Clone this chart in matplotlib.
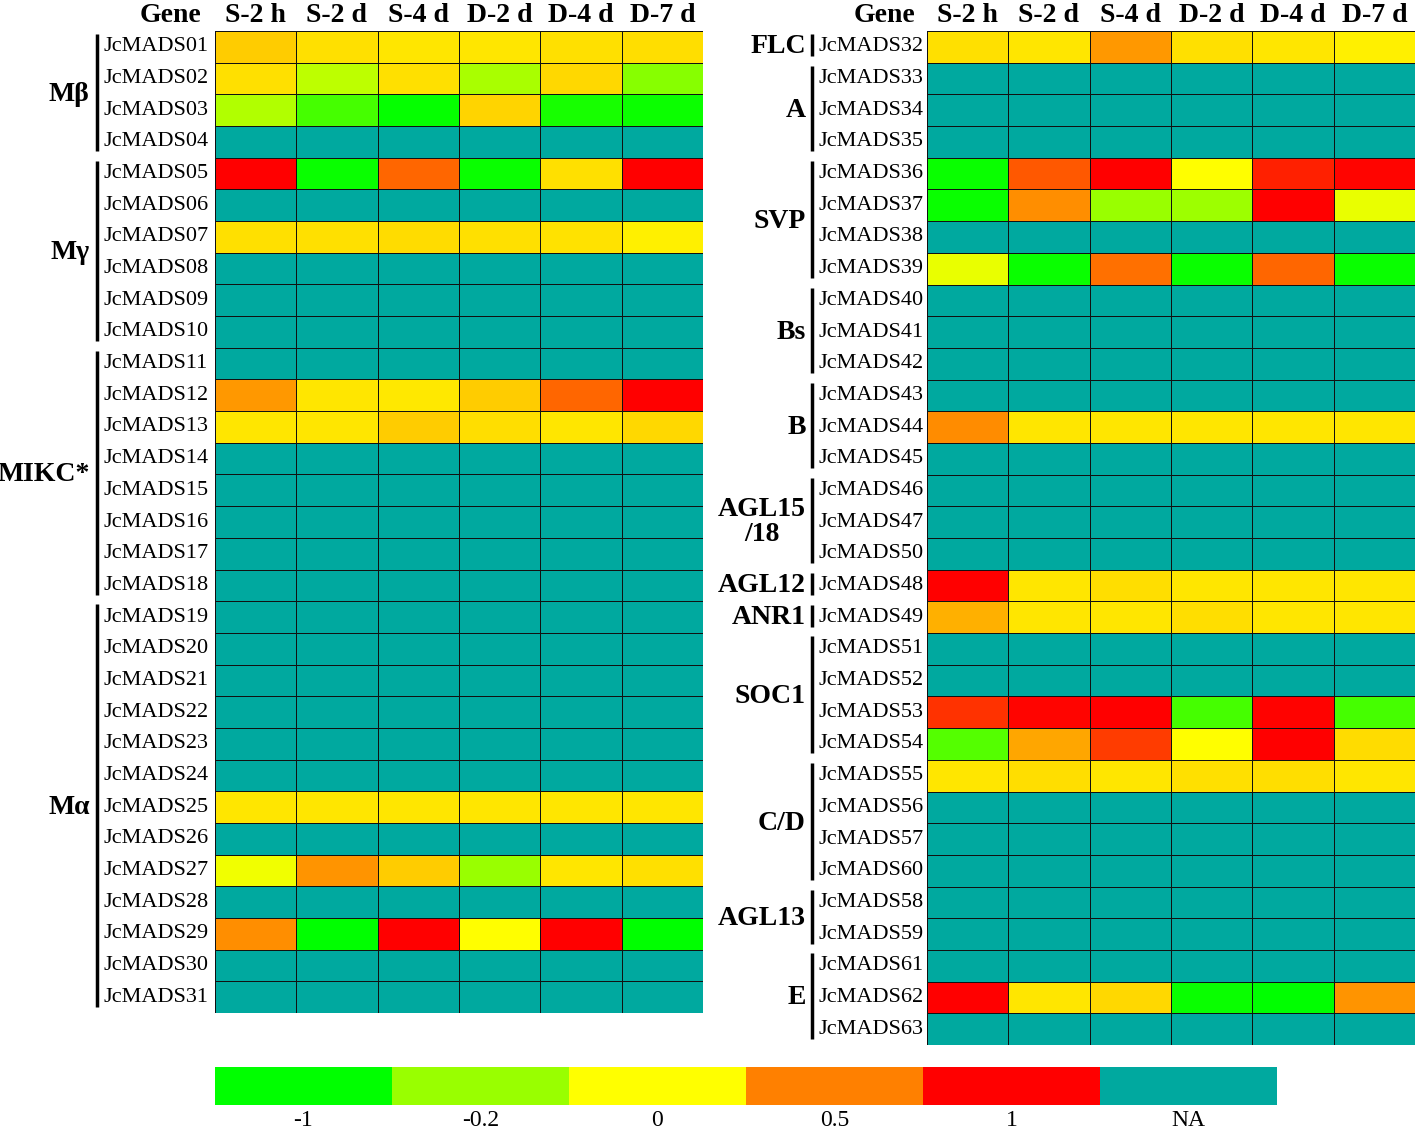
import numpy as np
import matplotlib
matplotlib.use("Agg")
import matplotlib.pyplot as plt
from matplotlib.colors import LinearSegmentedColormap, ListedColormap, Normalize

plt.rcParams['font.family'] = ['Liberation Serif', 'DejaVu Serif']

NA = np.nan
conditions = ["S-2 h", "S-2 d", "S-4 d", "D-2 d", "D-4 d", "D-7 d"]

# ---- left panel ----
left_genes = [f"JcMADS{i:02d}" for i in range(1, 32)]
left_groups = [("Mβ", 0, 3), ("Mγ", 4, 9), ("MIKC*", 10, 17), ("Mα", 18, 30)]
left_values = [
    [0.20, 0.12, 0.10, 0.10, 0.12, 0.13],    # 01
    [0.12, -0.13, 0.12, -0.17, 0.15, -0.29], # 02
    [-0.15, -0.64, -0.97, 0.17, -0.88, -0.94], # 03
    [NA] * 6,                                # 04
    [1.0, -0.95, 0.60, -0.95, 0.12, 1.0],    # 05
    [NA] * 6,                                # 06
    [0.12, 0.12, 0.14, 0.12, 0.11, 0.06],    # 07
    [NA] * 6, [NA] * 6, [NA] * 6, [NA] * 6,  # 08-11
    [0.40, 0.10, 0.09, 0.20, 0.60, 1.0],     # 12
    [0.10, 0.10, 0.20, 0.13, 0.10, 0.15],    # 13
    [NA] * 6, [NA] * 6, [NA] * 6, [NA] * 6, [NA] * 6, [NA] * 6,  # 14-19
    [NA] * 6, [NA] * 6, [NA] * 6, [NA] * 6, [NA] * 6,            # 20-24
    [0.10, 0.10, 0.10, 0.10, 0.10, 0.10],    # 25
    [NA] * 6,                                # 26
    [-0.03, 0.42, 0.20, -0.20, 0.10, 0.12],  # 27
    [NA] * 6,                                # 28
    [0.44, -1.0, 1.0, 0.0, 1.0, -1.0],       # 29
    [NA] * 6, [NA] * 6,                      # 30-31
]

# ---- right panel ----
right_genes = ["JcMADS32", "JcMADS33", "JcMADS34", "JcMADS35", "JcMADS36", "JcMADS37",
               "JcMADS38", "JcMADS39", "JcMADS40", "JcMADS41", "JcMADS42", "JcMADS43",
               "JcMADS44", "JcMADS45", "JcMADS46", "JcMADS47", "JcMADS50", "JcMADS48",
               "JcMADS49", "JcMADS51", "JcMADS52", "JcMADS53", "JcMADS54", "JcMADS55",
               "JcMADS56", "JcMADS57", "JcMADS60", "JcMADS58", "JcMADS59", "JcMADS61",
               "JcMADS62", "JcMADS63"]
right_groups = [("FLC", 0, 0), ("A", 1, 3), ("SVP", 4, 7), ("Bs", 8, 10), ("B", 11, 13),
                ("AGL15\n/18", 14, 16), ("AGL12", 17, 17), ("ANR1", 18, 18),
                ("SOC1", 19, 22), ("C/D", 23, 26), ("AGL13", 27, 28), ("E", 29, 31)]
right_values = [
    [0.12, 0.10, 0.40, 0.12, 0.10, 0.06],    # 32
    [NA] * 6, [NA] * 6, [NA] * 6,            # 33-35
    [-0.95, 0.65, 1.0, 0.0, 0.87, 0.98],     # 36
    [-0.95, 0.44, -0.20, -0.19, 1.0, -0.04], # 37
    [NA] * 6,                                # 38
    [-0.04, -0.95, 0.56, -0.95, 0.60, -0.95],# 39
    [NA] * 6, [NA] * 6, [NA] * 6, [NA] * 6,  # 40-43
    [0.45, 0.10, 0.10, 0.10, 0.10, 0.10],    # 44
    [NA] * 6, [NA] * 6, [NA] * 6, [NA] * 6,  # 45,46,47,50
    [1.0, 0.10, 0.13, 0.10, 0.10, 0.10],     # 48
    [0.31, 0.10, 0.10, 0.13, 0.10, 0.10],    # 49
    [NA] * 6, [NA] * 6,                      # 51,52
    [0.80, 0.98, 1.0, -0.64, 0.99, -0.64],   # 53
    [-0.56, 0.35, 0.76, 0.0, 1.0, 0.14],     # 54
    [0.10, 0.13, 0.10, 0.12, 0.13, 0.10],    # 55
    [NA] * 6, [NA] * 6, [NA] * 6, [NA] * 6, [NA] * 6, [NA] * 6,  # 56,57,60,58,59,61
    [1.0, 0.10, 0.15, -0.95, -1.0, 0.42],    # 62
    [NA] * 6,                                # 63
]

# ---- legend / colour scale ----
legend_labels = ["-1", "-0.2", "0", "0.5", "1", "NA"]
legend_levels = [-1.0, -0.2, 0.0, 0.5, 1.0]
legend_colors = ["#00FF00", "#99FF00", "#FFFF00", "#FF8000", "#FF0000", "#00A99F"]

pos = [(v - legend_levels[0]) / (legend_levels[-1] - legend_levels[0]) for v in legend_levels]
cmap = LinearSegmentedColormap.from_list("expr", list(zip(pos, legend_colors[:5])))
cmap.set_bad(legend_colors[5])
norm = Normalize(vmin=legend_levels[0], vmax=legend_levels[-1])

W, H = 1418, 1129
fig = plt.figure(figsize=(W / 100, H / 100), dpi=100)


def add_ax(x0, y0, x1, y1):
    return fig.add_axes([x0 / W, 1 - y1 / H, (x1 - x0) / W, (y1 - y0) / H])


def draw_panel(ax, values, genes, groups, gene_x, bar_x, grp_x, gene_head_x):
    data = np.ma.masked_invalid(np.array(values, dtype=float))
    nrow, ncol = data.shape
    ax.pcolormesh(np.arange(ncol + 1) - 0.5, np.arange(nrow + 1) - 0.5, data,
                  cmap=cmap, norm=norm, edgecolors="#111111", linewidth=0.65)
    ax.set_xlim(-0.5, ncol - 0.5)
    ax.set_ylim(nrow - 0.5, -0.5)
    ax.set_axis_off()
    for j, c in enumerate(conditions):
        ax.text(j, -0.98, c, ha="center", va="center", fontsize=20, fontweight="bold")
    ax.text(gene_head_x, -0.98, "Gene", ha="center", va="center", fontsize=20,
            fontweight="bold")
    for i, g in enumerate(genes):
        ax.text(gene_x, i, g, ha="left", va="center", fontsize=16, clip_on=False)
    for name, a, b in groups:
        ax.plot([bar_x, bar_x], [a - 0.4, b + 0.3], color="black", lw=2.5,
                clip_on=False, solid_capstyle="butt")
        ax.text(grp_x, (a + b) / 2, name, ha="right", va="center", fontsize=20,
                fontweight="bold", multialignment="center", linespacing=1.0)


axL = add_ax(215, 31, 703, 1013)
draw_panel(axL, left_values, left_genes, left_groups,
           gene_x=-1.87, bar_x=-1.95, grp_x=-2.04, gene_head_x=-1.05)

axR = add_ax(927, 31, 1415, 1045)
draw_panel(axR, right_values, right_genes, right_groups,
           gene_x=-1.84, bar_x=-1.91, grp_x=-1.99, gene_head_x=-1.02)

# ---- colour key ----
axC = add_ax(215, 1067, 1277, 1105)
key = np.arange(len(legend_labels)).reshape(1, -1)
axC.pcolormesh(np.arange(len(legend_labels) + 1) - 0.5, [0, 1], key,
               cmap=ListedColormap(legend_colors), vmin=-0.5, vmax=len(legend_labels) - 0.5)
axC.set_xlim(-0.5, len(legend_labels) - 0.5)
axC.set_ylim(0, 1)
axC.set_axis_off()
for k, lab in enumerate(legend_labels):
    axC.text(k, -0.4, lab, ha="center", va="center", fontsize=17)

fig.savefig("out.png", dpi=100)
